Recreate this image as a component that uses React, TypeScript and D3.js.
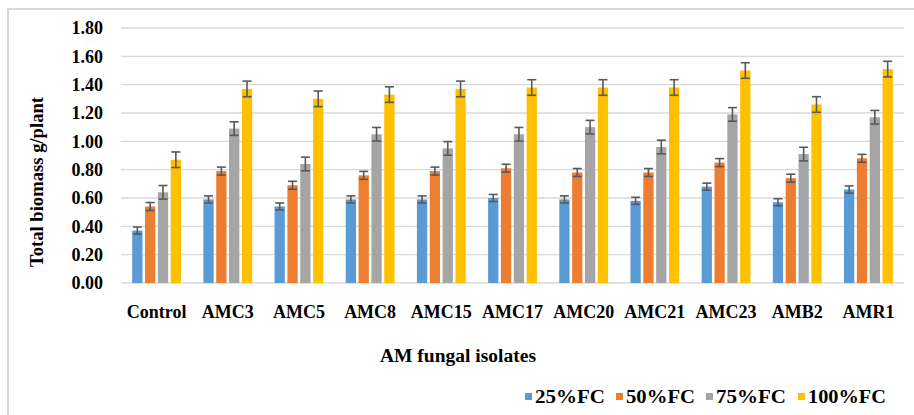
import React, { useEffect, useRef } from 'react';
import * as d3 from 'd3';

const categories = ['Control', 'AMC3', 'AMC5', 'AMC8', 'AMC15', 'AMC17', 'AMC20', 'AMC21', 'AMC23', 'AMB2', 'AMR1'];
const seriesNames = ['25%FC', '50%FC', '75%FC', '100%FC'];
const fc25 = [0.37, 0.59, 0.54, 0.59, 0.59, 0.60, 0.59, 0.58, 0.68, 0.57, 0.66];
const fc50 = [0.54, 0.79, 0.69, 0.76, 0.79, 0.81, 0.78, 0.78, 0.85, 0.74, 0.88];
const fc75 = [0.64, 1.09, 0.84, 1.05, 0.95, 1.05, 1.10, 0.96, 1.19, 0.91, 1.17];
const fc100 = [0.87, 1.37, 1.30, 1.33, 1.37, 1.38, 1.38, 1.38, 1.50, 1.26, 1.51];
const errors = [0.025, 0.028, 0.048, 0.055];
const yTicks = [0, 0.2, 0.4, 0.6, 0.8, 1.0, 1.2, 1.4, 1.6, 1.8];
const colors = ['#5b9bd5', '#ed7d31', '#a5a5a5', '#ffc000'];

const FONT = "'Liberation Serif', 'DejaVu Serif', 'Times New Roman', serif";

const App = () => {
  const svgRef = useRef<SVGSVGElement>(null);

  useEffect(() => {
    if (!svgRef.current) return;
    const svg = d3.select(svgRef.current);
    svg.selectAll('*').remove();

    const values = [fc25, fc50, fc75, fc100];

    // chart frame
    svg.append('rect')
      .attr('x', 8).attr('y', 9).attr('width', 908).attr('height', 410)
      .attr('fill', '#fff').attr('stroke', '#d9d9d9').attr('stroke-width', 2);

    const left = 121, right = 904, top = 28, bottom = 283;
    const x0 = d3.scaleBand().domain(categories).range([left, right]).padding(0);
    const y = d3.scaleLinear().domain([0, 1.8]).range([bottom, top]);

    // grid
    svg.append('g').selectAll('line').data(yTicks).enter().append('line')
      .attr('x1', left).attr('x2', right)
      .attr('y1', d => y(d)).attr('y2', d => y(d))
      .attr('stroke', '#d9d9d9').attr('stroke-width', 1.3);

    const txt = svg.append('g')
      .style('font-family', FONT).style('font-weight', 'bold').style('font-size', '18px')
      .attr('fill', '#000');

    // y tick labels
    txt.append('g').selectAll('text').data(yTicks).enter().append('text')
      .attr('x', 103).attr('y', d => y(d))
      .attr('dy', '0.35em')
      .attr('text-anchor', 'end')
      .text(d => d.toFixed(2));

    // bars
    categories.forEach((cat, ci) => {
      const c = (x0(cat) as number) + x0.bandwidth() / 2;
      const x1 = d3.scaleBand().domain(seriesNames).range([c - 24.4, c + 24.4]).paddingInner(0.2);
      seriesNames.forEach((s, si) => {
        const v = values[si][ci];
        const bx = x1(s) as number;
        const w = x1.bandwidth();
        svg.append('rect')
          .attr('x', bx).attr('y', y(v))
          .attr('width', w).attr('height', y(0) - y(v))
          .attr('fill', colors[si]);
        const cx = bx + w / 2;
        const e = errors[si];
        const eg = svg.append('g').attr('stroke', '#595959').attr('stroke-width', 1.6);
        eg.append('line').attr('x1', cx).attr('x2', cx).attr('y1', y(v + e)).attr('y2', y(v - e));
        eg.append('line').attr('x1', cx - 4.5).attr('x2', cx + 4.5).attr('y1', y(v + e)).attr('y2', y(v + e));
        eg.append('line').attr('x1', cx - 4.5).attr('x2', cx + 4.5).attr('y1', y(v - e)).attr('y2', y(v - e));
      });
    });

    // x labels
    txt.append('g').selectAll('text').data(categories).enter().append('text')
      .attr('x', d => (x0(d) as number) + x0.bandwidth() / 2)
      .attr('y', 318)
      .attr('text-anchor', 'middle')
      .text(d => d);

    // axis titles
    txt.append('text')
      .attr('x', 458).attr('y', 362)
      .attr('text-anchor', 'middle')
      .attr('textLength', 156).attr('lengthAdjust', 'spacingAndGlyphs')
      .text('AM fungal isolates');

    txt.append('text')
      .attr('transform', 'translate(43,182) rotate(-90)')
      .attr('text-anchor', 'middle')
      .attr('textLength', 170).attr('lengthAdjust', 'spacingAndGlyphs')
      .text('Total biomass g/plant');

    // legend
    const legendX = [525, 616, 706, 798];
    const legendW = [70, 69, 70, 78];
    const lg = svg.append('g').selectAll('g').data(seriesNames).enter().append('g')
      .attr('transform', (_, i) => `translate(${legendX[i]}, 397)`);
    lg.append('rect').attr('x', 0).attr('y', -4).attr('width', 7).attr('height', 7)
      .attr('fill', (_, i) => colors[i]);
    lg.append('text').attr('x', 10).attr('y', 0).attr('dy', '0.35em')
      .attr('textLength', (_, i) => legendW[i]).attr('lengthAdjust', 'spacingAndGlyphs')
      .style('font-family', FONT).style('font-weight', 'bold').style('font-size', '18px')
      .text(d => d);
  }, []);

  return (
    <svg ref={svgRef} width={914} height={415}
      style={{ position: 'absolute', left: 0, top: 0, display: 'block' }} />
  );
};

export default App;
